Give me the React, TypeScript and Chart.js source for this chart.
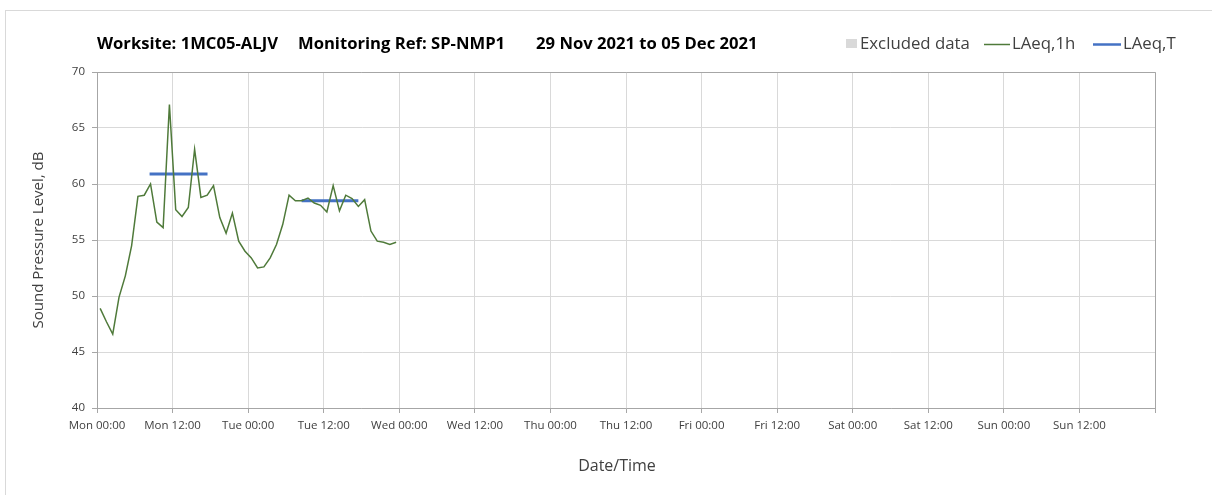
import React, { useEffect, useRef } from 'react';
import { Chart, registerables } from 'chart.js';

Chart.register(...registerables);

// Hour offsets (from Mon 00:00) of each hourly LAeq,1h value
const hours = [
  0.5, 1.5, 2.5, 3.5, 4.5, 5.5, 6.5, 7.5, 8.5, 9.5, 10.5, 11.5,
  12.5, 13.5, 14.5, 15.5, 16.5, 17.5, 18.5, 19.5, 20.5, 21.5, 22.5, 23.5,
  24.5, 25.5, 26.5, 27.5, 28.5, 29.5, 30.5, 31.5, 32.5, 33.5, 34.5, 35.5,
  36.5, 37.5, 38.5, 39.5, 40.5, 41.5, 42.5, 43.5, 44.5, 45.5, 46.5, 47.5,
];
const laeq1h = [
  48.9, 47.7, 46.6, 49.9, 51.8, 54.5, 58.9, 59.0, 60.0, 56.6, 56.1, 67.1,
  57.7, 57.1, 57.9, 63.1, 58.8, 59.0, 59.85, 57.0, 55.6, 57.4, 54.9, 54.0,
  53.4, 52.5, 52.6, 53.4, 54.6, 56.4, 59.0, 58.5, 58.5, 58.75, 58.3, 58.1,
  57.5, 59.85, 57.6, 59.0, 58.7, 58.0, 58.6, 55.8, 54.9, 54.8, 54.6, 54.8,
];

// LAeq,T periods
const laeqTStart = [8.35, 32.5];
const laeqTEnd = [17.55, 41.5];
const laeqTValue = [60.9, 58.5];

const excludedData: { x: number; y: number }[] = [];

const xTickLabels = [
  'Mon 00:00', 'Mon 12:00', 'Tue 00:00', 'Tue 12:00', 'Wed 00:00', 'Wed 12:00',
  'Thu 00:00', 'Thu 12:00', 'Fri 00:00', 'Fri 12:00', 'Sat 00:00', 'Sat 12:00',
  'Sun 00:00', 'Sun 12:00', '',
];

const titleParts = ['Worksite: 1MC05-ALJV', 'Monitoring Ref: SP-NMP1', '29 Nov 2021 to 05 Dec 2021'];
const seriesNames = ['Excluded data', 'LAeq,1h', 'LAeq,T'];
const xTitle = 'Date/Time';
const yTitle = 'Sound Pressure Level, dB';

const FONT = '"Open Sans", "Noto Sans", sans-serif';
const W = 1212;
const H = 495;

const TITLE_LEFT = 97;
const TITLE_RIGHT = 758;
const TITLE_GAPS = [20, 31];
const legendItems = [
  { kind: 'rect', markX: 846, markW: 11, textX: 860 },
  { kind: 'line', markX: 984, markW: 26, textX: 1012 },
  { kind: 'line', markX: 1093, markW: 28, textX: 1123 },
];
const LEGEND_FIRST_TEXT_W = 110;

const decorPlugin = {
  id: 'decor',
  beforeDraw(chart: any) {
    const ctx = chart.ctx;
    ctx.save();
    ctx.fillStyle = '#ffffff';
    ctx.fillRect(0, 0, W, H);
    ctx.strokeStyle = '#d9d9d9';
    ctx.lineWidth = 1;
    ctx.strokeRect(5.5, 10.5, W + 20, H + 20);
    ctx.restore();
  },
  afterDraw(chart: any) {
    const ctx = chart.ctx;
    const a = chart.chartArea;
    ctx.save();
    // plot frame top/right
    ctx.strokeStyle = '#a6a6a6';
    ctx.lineWidth = 1;
    ctx.beginPath();
    ctx.moveTo(a.left, Math.round(a.top) + 0.5);
    ctx.lineTo(Math.round(a.right) + 0.5, Math.round(a.top) + 0.5);
    ctx.lineTo(Math.round(a.right) + 0.5, a.bottom);
    ctx.stroke();

    // title, sized to span the same width as the reference
    ctx.textBaseline = 'middle';
    ctx.textAlign = 'left';
    ctx.font = `bold 14px ${FONT}`;
    const w14 = titleParts.reduce((s, t) => s + ctx.measureText(t).width, 0);
    const avail = TITLE_RIGHT - TITLE_LEFT - TITLE_GAPS[0] - TITLE_GAPS[1];
    const tSize = 14 * avail / w14;
    ctx.font = `bold ${tSize.toFixed(2)}px ${FONT}`;
    ctx.fillStyle = '#000000';
    let tx = TITLE_LEFT;
    titleParts.forEach((t, i) => {
      ctx.fillText(t, tx, 44);
      tx += ctx.measureText(t).width + (TITLE_GAPS[i] || 0);
    });

    // legend
    const ds = chart.data.datasets;
    ctx.font = `14px ${FONT}`;
    const lSize = 14 * LEGEND_FIRST_TEXT_W / ctx.measureText(seriesNames[0]).width;
    ctx.font = `${lSize.toFixed(2)}px ${FONT}`;
    legendItems.forEach((it, i) => {
      const d = ds[i];
      if (it.kind === 'rect') {
        ctx.fillStyle = d.backgroundColor;
        ctx.fillRect(it.markX, 39, it.markW, 9);
      } else {
        ctx.strokeStyle = d.borderColor;
        ctx.lineWidth = i === 2 ? 2.5 : 1.5;
        ctx.beginPath();
        ctx.moveTo(it.markX, 44.5);
        ctx.lineTo(it.markX + it.markW, 44.5);
        ctx.stroke();
      }
      ctx.fillStyle = '#404040';
      ctx.fillText(seriesNames[i], it.textX, 44);
    });

    // axis titles
    ctx.fillStyle = '#404040';
    ctx.textAlign = 'center';
    ctx.font = `16px ${FONT}`;
    ctx.fillText(xTitle, 617, 466);
    ctx.save();
    ctx.translate(39, 240);
    ctx.rotate(-Math.PI / 2);
    ctx.font = `15px ${FONT}`;
    ctx.fillText(yTitle, 0, 0);
    ctx.restore();
    ctx.restore();
  },
};

export default function App() {
  const ref = useRef<HTMLCanvasElement | null>(null);

  useEffect(() => {
    if (!ref.current) return;
    const laeqTData: any[] = [];
    laeqTStart.forEach((s, i) => {
      if (i > 0) laeqTData.push({ x: (laeqTEnd[i - 1] + s) / 2, y: null });
      laeqTData.push({ x: s, y: laeqTValue[i] });
      laeqTData.push({ x: laeqTEnd[i], y: laeqTValue[i] });
    });

    const chart = new Chart(ref.current, {
      type: 'line',
      data: {
        datasets: [
          {
            type: 'bar',
            label: seriesNames[0],
            data: excludedData,
            backgroundColor: '#d9d9d9',
          } as any,
          {
            label: seriesNames[1],
            data: hours.map((h, i) => ({ x: h, y: laeq1h[i] })),
            borderColor: '#4f7a3a',
            backgroundColor: '#4f7a3a',
            borderWidth: 1.5,
            pointRadius: 0,
            tension: 0,
          },
          {
            label: seriesNames[2],
            data: laeqTData,
            borderColor: '#4472c4',
            backgroundColor: '#4472c4',
            borderWidth: 3,
            pointRadius: 0,
            spanGaps: false,
            borderCapStyle: 'butt',
          },
        ],
      },
      options: {
        animation: false,
        responsive: false,
        maintainAspectRatio: false,
        layout: { padding: { top: 72, right: 57, left: 0, bottom: 0 } },
        plugins: {
          legend: { display: false },
          tooltip: { enabled: false },
          title: { display: false },
        },
        scales: {
          x: {
            type: 'linear',
            min: 0,
            max: 168,
            offset: false,
            ticks: {
              stepSize: 12,
              autoSkip: false,
              maxRotation: 0,
              minRotation: 0,
              padding: 6,
              color: '#404040',
              font: { family: FONT, size: 11.5 },
              callback: (v: any) => xTickLabels[Math.round(Number(v) / 12)] ?? '',
            },
            grid: { color: '#d9d9d9', tickLength: 5, tickColor: '#a6a6a6', offset: false },
            border: { color: '#a6a6a6' },
            title: { display: false },
            afterFit: (s: any) => {
              s.height = H - 408;
            },
          },
          y: {
            type: 'linear',
            min: 40,
            max: 70,
            ticks: {
              stepSize: 5,
              padding: 7,
              color: '#404040',
              font: { family: FONT, size: 11.5 },
            },
            grid: { color: '#d9d9d9', tickLength: 5, tickColor: '#a6a6a6' },
            border: { color: '#a6a6a6' },
            title: { display: false },
            afterFit: (s: any) => {
              s.width = 97;
            },
          },
        },
      } as any,
      plugins: [decorPlugin],
    });
    return () => chart.destroy();
  }, []);

  return (
    <div style={{ position: 'absolute', left: 0, top: 0, width: W, height: H, overflow: 'hidden' }}>
      <canvas ref={ref} width={W} height={H} style={{ display: 'block' }} />
    </div>
  );
}
